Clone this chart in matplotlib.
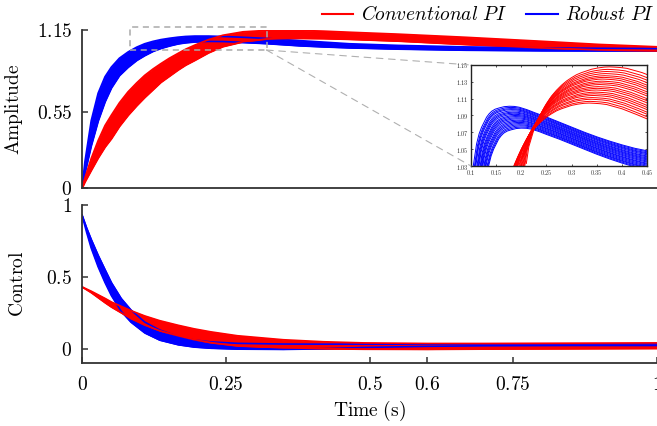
import matplotlib
matplotlib.use("Agg")
import matplotlib.pyplot as plt
from matplotlib.patches import Rectangle, ConnectionPatch
from matplotlib.lines import Line2D
import numpy as np

plt.rcParams['mathtext.fontset'] = 'cm'
plt.rcParams['font.family'] = ['DejaVu Serif']

# ---------------- data ----------------
# top panel: step response bands (upper / lower envelopes)
t_amp = [0, 0.005, 0.016, 0.028, 0.04, 0.051, 0.065, 0.08, 0.095, 0.109, 0.123, 0.137,
         0.152, 0.167, 0.18, 0.196, 0.22, 0.245, 0.28, 0.32, 0.378, 0.42, 0.465, 0.55,
         0.668, 0.8, 0.9, 1.0]
robust_amp_hi = [0, 0.19, 0.49, 0.69, 0.81, 0.88, 0.945, 0.99, 1.025, 1.05, 1.067, 1.08,
                 1.09, 1.098, 1.103, 1.106, 1.106, 1.103, 1.097, 1.089, 1.073, 1.062, 1.05,
                 1.038, 1.027, 1.02, 1.017, 1.015]
robust_amp_lo = [0, 0.11, 0.31, 0.49, 0.63, 0.73, 0.82, 0.88, 0.93, 0.965, 0.995, 1.017,
                 1.035, 1.05, 1.058, 1.064, 1.067, 1.066, 1.06, 1.052, 1.036, 1.028, 1.021,
                 1.012, 1.004, 1.0, 0.999, 0.999]
conv_amp_hi = [0, 0.073, 0.215, 0.345, 0.455, 0.53, 0.62, 0.70, 0.765, 0.82, 0.865, 0.905,
               0.945, 0.98, 1.01, 1.04, 1.08, 1.112, 1.137, 1.147, 1.147, 1.142, 1.134,
               1.12, 1.097, 1.068, 1.045, 1.028]
conv_amp_lo = [0, 0.045, 0.13, 0.22, 0.30, 0.36, 0.45, 0.53, 0.60, 0.66, 0.715, 0.77,
               0.815, 0.86, 0.895, 0.93, 0.985, 1.03, 1.065, 1.085, 1.09, 1.088, 1.083,
               1.07, 1.045, 1.02, 1.005, 0.998]

# bottom panel: control effort bands
t_ctl = [0, 0.008, 0.016, 0.028, 0.04, 0.051, 0.068, 0.085, 0.109, 0.135, 0.167, 0.195,
         0.224, 0.27, 0.35, 0.42, 0.49, 0.6, 0.7, 0.85, 1.0]
robust_ctl_hi = [0.93, 0.84, 0.76, 0.65, 0.55, 0.46, 0.35, 0.27, 0.185, 0.13, 0.085, 0.06,
                 0.047, 0.037, 0.032, 0.031, 0.031, 0.031, 0.032, 0.033, 0.033]
robust_ctl_lo = [0.93, 0.81, 0.70, 0.57, 0.46, 0.37, 0.26, 0.185, 0.11, 0.06, 0.028, 0.012,
                 0.004, -0.002, -0.004, 0.0, 0.008, 0.016, 0.02, 0.022, 0.022]
conv_ctl_hi = [0.43, 0.415, 0.40, 0.375, 0.35, 0.325, 0.295, 0.265, 0.228, 0.195, 0.163,
               0.138, 0.117, 0.09, 0.062, 0.048, 0.04, 0.036, 0.036, 0.038, 0.04]
conv_ctl_lo = [0.43, 0.41, 0.39, 0.355, 0.32, 0.29, 0.25, 0.21, 0.165, 0.125, 0.09, 0.063,
               0.042, 0.02, 0.006, 0.0, -0.003, -0.004, -0.002, 0.0, 0.002]

# inset: base curves (lowest member of each family) and per-curve shifts
robust_base_t = [0.125, 0.13, 0.135, 0.14, 0.145, 0.15, 0.155, 0.16, 0.165, 0.172, 0.18,
                 0.19, 0.2, 0.21, 0.22, 0.235, 0.25, 0.275, 0.3, 0.325, 0.35, 0.375, 0.4,
                 0.425, 0.45, 0.475]
robust_base_y = [0.99, 1.01, 1.03, 1.042, 1.05, 1.056, 1.062, 1.066, 1.069, 1.0715, 1.073,
                 1.0745, 1.075, 1.0748, 1.0738, 1.071, 1.0675, 1.062, 1.056, 1.05, 1.044,
                 1.0385, 1.0335, 1.029, 1.025, 1.022]
robust_dx = [0.0, -0.001, -0.002, -0.004, -0.005, -0.006, -0.007, -0.009, -0.010, -0.011,
             -0.012, -0.013, -0.015, -0.016, -0.017, -0.018, -0.020, -0.021, -0.022, -0.024]
robust_dy = [0.0, 0.0013, 0.0027, 0.004, 0.0054, 0.0068, 0.0082, 0.0095, 0.011, 0.0123,
             0.0137, 0.015, 0.0164, 0.0178, 0.019, 0.0205, 0.022, 0.0232, 0.0246, 0.026]

conv_base_t = [0.17, 0.175, 0.185, 0.193, 0.2, 0.21, 0.22, 0.23, 0.24, 0.25, 0.26, 0.27,
               0.28, 0.29, 0.3, 0.3125, 0.325, 0.335, 0.345, 0.357, 0.37, 0.385, 0.4,
               0.415, 0.43, 0.45, 0.47]
conv_base_y = [0.99, 1.01, 1.03, 1.041, 1.05, 1.061, 1.07, 1.077, 1.083, 1.088, 1.092,
               1.0955, 1.098, 1.1, 1.102, 1.1035, 1.1045, 1.1048, 1.1045, 1.104, 1.103,
               1.1005, 1.098, 1.0945, 1.091, 1.086, 1.08]
conv_dx = [0.0, 0.002, 0.004, 0.006, 0.008, 0.010, 0.012, 0.014, 0.016, 0.018, 0.021,
           0.023, 0.025, 0.027, 0.029, 0.031, 0.033, 0.035, 0.037, 0.040]
conv_dy = [0.0, 0.002, 0.0045, 0.0065, 0.009, 0.011, 0.013, 0.0155, 0.0175, 0.0195, 0.022,
           0.024, 0.026, 0.0285, 0.0305, 0.0325, 0.035, 0.0375, 0.040, 0.043]

amp_ticks = [0, 0.55, 1.15]
ctl_ticks = [0, 0.5, 1]
time_ticks = [0, 0.25, 0.5, 0.6, 0.75, 1]
time_labels = ['0', '0.25', '0.5', '0.6', '0.75', '1']
inset_xticks = [0.1, 0.15, 0.2, 0.25, 0.3, 0.35, 0.4, 0.45]
inset_yticks = [1.03, 1.05, 1.07, 1.09, 1.11, 1.13, 1.15]

RED = '#ff0000'
BLUE = '#0000ff'
SPINE = '#333333'

# ---------------- figure ----------------
W, H = 657, 426
fig = plt.figure(figsize=(W / 100, H / 100), dpi=100)

def frac(x0, y0, x1, y1):
    return [x0 / W, 1 - y1 / H, (x1 - x0) / W, (y1 - y0) / H]

ax1 = fig.add_axes(frac(82, 30, 657, 188))
ax2 = fig.add_axes(frac(82, 205, 657, 363))

FS = 14

def style(ax):
    for s in ('top', 'right'):
        ax.spines[s].set_visible(False)
    for s in ('left', 'bottom'):
        ax.spines[s].set_color(SPINE)
        ax.spines[s].set_linewidth(1.3)
    ax.tick_params(direction='in', length=4.5, width=1.1, color=SPINE)
    ax.set_xlim(0, 1)

style(ax1)
style(ax2)

def band(ax, t, lo, hi, color):
    ax.fill_between(t, lo, hi, color=color, lw=0.8, edgecolor=color)
    ax.plot(t, hi, color=color, lw=1.2, solid_joinstyle='round')
    ax.plot(t, lo, color=color, lw=1.2, solid_joinstyle='round')

# top panel bands
band(ax1, t_amp, robust_amp_lo, robust_amp_hi, BLUE)
band(ax1, t_amp, conv_amp_lo, conv_amp_hi, RED)
ax1.set_ylim(0, 1.15)
ax1.set_yticks(amp_ticks, labels=['$%s$' % v for v in ['0', '0.55', '1.15']], fontsize=FS)
ax1.tick_params(axis='y', pad=7)
ax1.tick_params(axis='x', bottom=False, labelbottom=False)
ax1.set_ylabel(r'$\mathrm{Amplitude}$', fontsize=FS)
ax1.yaxis.set_label_coords(-0.099, 0.5)

# bottom panel bands
band(ax2, t_ctl, robust_ctl_lo, robust_ctl_hi, BLUE)
band(ax2, t_ctl, conv_ctl_lo, conv_ctl_hi, RED)
ax2.set_ylim(-0.1, 1)
ax2.set_yticks(ctl_ticks, labels=['$0$', '$0.5$', '$1$'], fontsize=FS)
ax2.set_xticks(time_ticks, labels=['$%s$' % s for s in time_labels], fontsize=FS)
ax2.tick_params(axis='y', pad=7)
ax2.tick_params(axis='x', pad=9)
ax2.set_ylabel(r'$\mathrm{Control}$', fontsize=FS)
ax2.yaxis.set_label_coords(-0.0957, 0.5)
ax2.set_xlabel(r'$\mathrm{Time\ (s)}$', fontsize=FS, labelpad=4)

# zoom box on the top panel
bx0, bx1 = 0.0833, 0.321
by0, by1 = 1.004, 1.172
ax1.add_patch(Rectangle((bx0, by0), bx1 - bx0, by1 - by0, fill=False,
                        edgecolor='#aaaaaa', lw=1.1, ls=(0, (4, 3)), clip_on=False,
                        zorder=5))

# inset
axi = fig.add_axes(frac(471, 65, 647, 166))
for dx, dy in zip(robust_dx, robust_dy):
    axi.plot(np.add(robust_base_t, dx), np.add(robust_base_y, dy), color=BLUE, lw=0.7)
for dx, dy in zip(conv_dx, conv_dy):
    axi.plot(np.add(conv_base_t, dx), np.add(conv_base_y, dy), color=RED, lw=0.7)
axi.set_xlim(0.1, 0.45)
axi.set_ylim(1.03, 1.15)
axi.set_xticks(inset_xticks, labels=['$%g$' % v for v in inset_xticks])
axi.set_yticks(inset_yticks, labels=['$%.2f$' % v for v in inset_yticks])
axi.tick_params(direction='in', length=1.5, width=0.6, labelsize=4.5, pad=1.5,
                top=True, right=True, color='#333333', labelcolor='#333333')
for s in axi.spines.values():
    s.set_linewidth(1.0)
    s.set_color('#222222')

for corner in [(0, 1), (0, 0)]:
    con = ConnectionPatch(xyA=(bx1, by0), coordsA=ax1.transData,
                          xyB=corner, coordsB=axi.transAxes,
                          color='#b0b0b0', lw=0.8, ls=(0, (6, 5)), zorder=1)
    fig.add_artist(con)

# legend
handles = [Line2D([], [], color=RED, lw=1.5), Line2D([], [], color=BLUE, lw=1.5)]
fig.legend(handles, [r'$\mathit{Conventional\ PI}$', r'$\mathit{Robust\ PI}$'],
           loc='center right', bbox_to_anchor=(655 / W, 1 - 15 / H), ncol=2,
           frameon=False, fontsize=FS, handlelength=1.6, handletextpad=0.4,
           columnspacing=1.0, borderaxespad=0, borderpad=0)

fig.savefig('out.png', dpi=100)
